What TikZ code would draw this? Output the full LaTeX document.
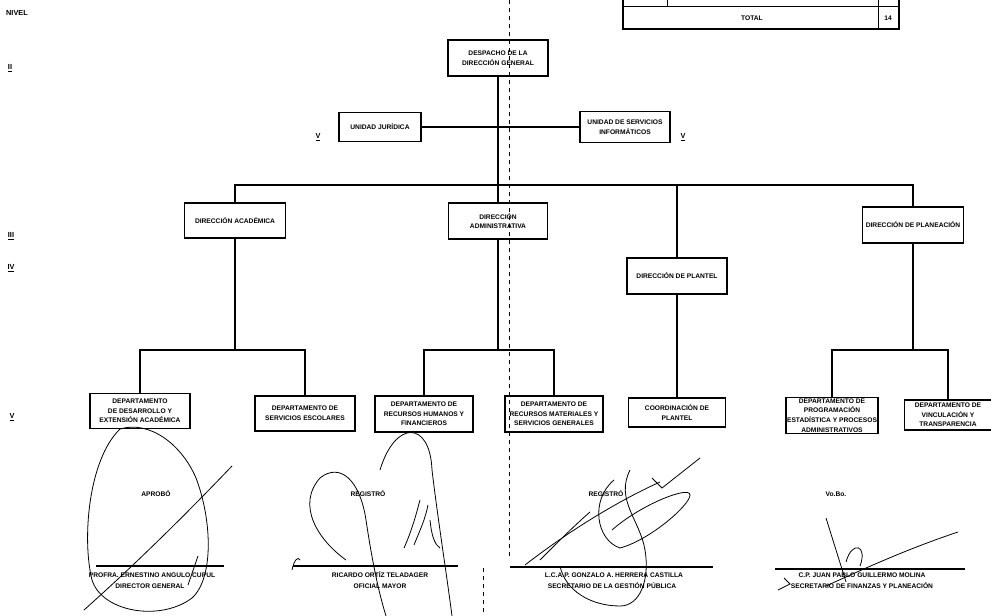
\documentclass[tikz,border=0pt]{standalone}
\usepackage{fontspec}
\setmainfont{Liberation Sans}
\begin{document}
\begin{tikzpicture}[x=0.75pt,y=-0.75pt,
  every node/.style={font=\fontsize{5}{7.2}\selectfont\bfseries, inner sep=0.8pt},
  box/.style={draw, line width=0.9pt, align=center},
  conn/.style={line width=0.8pt},
  sig/.style={line width=0.6pt},
  lvl/.style={font=\fontsize{5.5}{6}\selectfont\bfseries},
  fold/.style={line width=0.5pt, dash pattern=on 3pt off 3pt}]
\useasboundingbox (0,0) rectangle (991,616);
% table
\draw[line width=1.3pt] (623,-2) -- (623,29) -- (899,29) -- (899,-2);
\draw[line width=0.6pt] (623,6) -- (899,6);
\draw[line width=0.6pt] (667,-2) -- (667,6);
\draw[line width=0.6pt] (878,-2) -- (878,29);
\node (ttot) at (752,18) {TOTAL};
\node (tnum) at (888,18) {14};
% level labels
\node[lvl] (nivel) at (17,13) {NIVEL};
\node[lvl] (l2) at (10,68) {\underline{II}};
\node[lvl] (l3) at (11,236) {\underline{III}};
\node[lvl] (l4) at (11,268) {\underline{IV}};
\node[lvl] (l5) at (12,417) {\underline{V}};
\node[lvl] (l5a) at (318,137) {\underline{V}};
\node[lvl] (l5b) at (683,137) {\underline{V}};
% fold line
\coordinate (ft) at (509,0);
\coordinate (fb) at (509,560);
\coordinate (gt) at (483,568);
\coordinate (gb) at (483,616);
\draw[fold] (ft) -- (fb);
\draw[fold] (gt) -- (gb);
% boxes
\node[box, minimum width=75pt, minimum height=27pt] (desp) at (498,58) {DESPACHO DE LA\\DIRECCIÓN GENERAL};
\node[box, minimum width=61.5pt, minimum height=21.75pt] (uj) at (380,127) {UNIDAD JURÍDICA};
\node[box, minimum width=67.5pt, minimum height=23.25pt] (usi) at (625,127) {UNIDAD DE SERVICIOS\\INFORMÁTICOS};
\node[box, minimum width=75.75pt, minimum height=26.25pt] (dac) at (235,220.5) {DIRECCIÓN ACADÉMICA};
\node[box, minimum width=74.25pt, minimum height=27pt] (dad) at (498,221) {DIRECCIÓN\\ADMINISTRATIVA};
\node[box, minimum width=75pt, minimum height=27pt] (dpl) at (677,276) {DIRECCIÓN DE PLANTEL};
\node[box, minimum width=75.75pt, minimum height=27pt] (dpn) at (913,225) {DIRECCIÓN DE PLANEACIÓN};
\node[box, minimum width=75pt, minimum height=26.25pt] (b1) at (140,411) {DEPARTAMENTO\\DE DESARROLLO Y\\EXTENSIÓN ACADÉMICA};
\node[box, minimum width=75pt, minimum height=26.25pt] (b2) at (305,413.5) {DEPARTAMENTO DE\\SERVICIOS ESCOLARES};
\node[box, minimum width=73.5pt, minimum height=27pt] (b3) at (424,414) {DEPARTAMENTO DE\\RECURSOS HUMANOS Y\\FINANCIEROS};
\node[box, minimum width=73.5pt, minimum height=27pt] (b4) at (554,414) {DEPARTAMENTO DE\\RECURSOS MATERIALES Y\\SERVICIOS GENERALES};
\node[box, minimum width=72.75pt, minimum height=21.75pt] (b5) at (677,412.5) {COORDINACIÓN DE\\PLANTEL};
\node[box, minimum width=67.5pt, minimum height=26.25pt] (b6) at (832,415.5) {DEPARTAMENTO DE\\PROGRAMACIÓN\\ESTADÍSTICA Y PROCESOS\\ADMINISTRATIVOS};
\node[box, minimum width=65.25pt, minimum height=22.5pt] (b7) at (948,415) {DEPARTAMENTO DE\\VINCULACIÓN Y\\TRANSPARENCIA};
% connectors
\coordinate (bus) at (498,185);
\coordinate (ba) at (235,350);
\coordinate (bd) at (498,350);
\coordinate (bp) at (913,350);
\draw[conn] (desp.south) -- (bus);
\draw[conn] (uj.east) -- (usi.west);
\draw[conn] (dac.north) |- (bus) -| (dpn.north);
\draw[conn] (bus) -| (dpl.north);
\draw[conn] (bus) -- (dad.north);
\draw[conn] (dac.south) -- (ba);
\draw[conn] (b1.north) |- (ba) -| (b2.north);
\draw[conn] (dad.south) -- (bd);
\draw[conn] (b3.north) |- (bd) -| (b4.north);
\draw[conn] (dpl.south) -- (b5.north);
\draw[conn] (dpn.south) -- (bp);
\draw[conn] (b6.north) |- (bp) -| (b7.north);
% signature blocks
\coordinate (s1a) at (96,566); \coordinate (s1b) at (224,566);
\coordinate (s2a) at (293,566); \coordinate (s2b) at (458,566);
\coordinate (s3a) at (510,567); \coordinate (s3b) at (713,567);
\coordinate (s4a) at (775,569); \coordinate (s4b) at (965,569);
\draw[conn] (s1a) -- (s1b);
\draw[conn] (s2a) -- (s2b);
\draw[conn] (s3a) -- (s3b);
\draw[conn] (s4a) -- (s4b);
\node (ap) at (156,494) {APROBÓ};
\node (r1) at (368,494) {REGISTRÓ};
\node (r2) at (606,494) {REGISTRÓ};
\node (vb) at (836,494) {Vo.Bo.};
\node (n1) at (152,575) {PROFRA. ERNESTINO ANGULO CUPUL};
\node (c1) at (150,586) {DIRECTOR GENERAL};
\node (n2) at (380,575) {RICARDO ORTÍZ TELADAGER};
\node (c2) at (380,586) {OFICIAL MAYOR};
\node (n3) at (614,575) {L.C.A.P. GONZALO A. HERRERA CASTILLA};
\node (c3) at (612,586) {SECRETARIO DE LA GESTIÓN PÚBLICA};
\node (n4) at (862,575) {C.P. JUAN PABLO GUILLERMO MOLINA};
\node (c4) at (862,586) {SECRETARIO DE FINANZAS Y PLANEACIÓN};
% signature scribbles (approximate)
\draw[sig] (120,429) .. controls (88,460) and (82,540) .. (92,580) .. controls (102,612) and (160,622) .. (192,598) .. controls (214,578) and (212,520) .. (196,478) .. controls (182,445) and (150,420) .. (120,429);
\draw[sig] (84,610) .. controls (140,560) and (190,510) .. (232,466);
\draw[sig] (188,585) -- (198,556);
\draw[sig] (292,570) .. controls (294,560) and (298,556) .. (300,560);
\draw[sig] (346,560) .. controls (318,540) and (296,505) .. (320,478) .. controls (340,462) and (360,480) .. (366,520) .. controls (372,560) and (378,590) .. (386,616);
\draw[sig] (380,470) .. controls (395,420) and (430,420) .. (432,470) .. controls (438,520) and (446,570) .. (452,616);
\draw[sig] (404,548) .. controls (412,530) and (416,515) .. (420,500);
\draw[sig] (414,545) .. controls (420,530) and (425,520) .. (428,505);
\draw[sig] (430,520) .. controls (432,540) and (436,545) .. (440,548);
\draw[sig] (525,565) .. controls (570,530) and (620,500) .. (660,482);
\draw[sig] (540,560) .. controls (560,540) and (575,525) .. (590,512);
\draw[sig] (614,480) .. controls (590,500) and (596,540) .. (620,548) .. controls (650,540) and (690,505) .. (690,495) .. controls (690,485) and (640,505) .. (612,530);
\draw[sig] (630,470) .. controls (615,500) and (640,520) .. (645,550) .. controls (650,580) and (640,606) .. (620,606) .. controls (590,606) and (565,590) .. (560,566);
\draw[sig] (652,478) -- (662,488) -- (700,458);
\draw[sig] (826,518) -- (846,582);
\draw[sig] (826,586) .. controls (870,566) and (910,548) .. (958,532);
\draw[sig] (846,562) .. controls (852,540) and (868,545) .. (860,566);
\draw[sig] (778,590) -- (790,584) -- (784,578);
\end{tikzpicture}
\end{document}
